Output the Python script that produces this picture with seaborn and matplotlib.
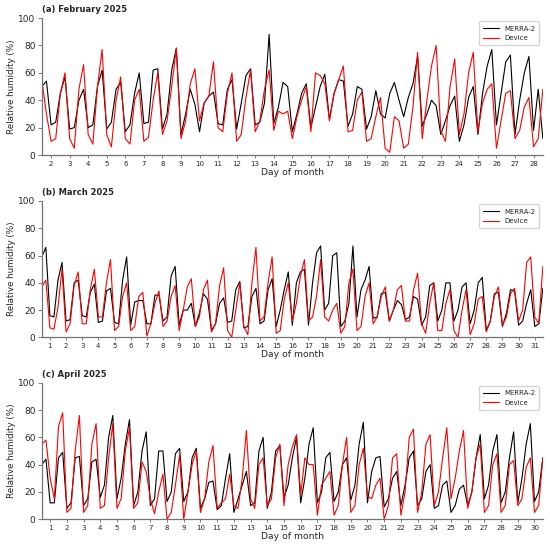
import numpy as np
import pandas as pd
import matplotlib
matplotlib.use("Agg")
import matplotlib.pyplot as plt
import seaborn as sns

# 6-hourly readings, x in day-of-month (tick k sits mid-day)
feb_start, mar_start, apr_start = 1.5, 0.5, 0.5
step = 0.25

feb_merra = [50, 54,
             22, 24, 45, 57,  19, 20, 40, 48,  20, 22, 50, 62,  19, 24, 48, 53,
             17, 22, 45, 60,  23, 24, 62, 63,  19, 30, 62, 78,  15, 30, 48, 37,
             17, 38, 43, 46,  23, 22, 48, 55,  19, 38, 58, 63,  22, 24, 38, 88,
             23, 35, 53, 50,  17, 30, 45, 52,  20, 35, 50, 59,  26, 45, 55, 54,
             21, 30, 50, 48,  19, 28, 47, 30,  27, 45, 53, 40,  28, 42, 52, 72,
             21, 30, 40, 36,  15, 25, 36, 43,  10, 22, 42, 50,  15, 45, 65, 77,
             22, 45, 68, 73,  15, 40, 60, 72,  18, 48, 12]
feb_device = [55, 30,
              10, 12, 45, 60,  12, 5, 48, 66,  15, 8, 50, 77,  15, 6, 40, 57,
              12, 8, 40, 48,  10, 13, 40, 60,  15, 25, 50, 78,  12, 25, 52, 63,
              25, 38, 43, 68,  20, 17, 45, 60,  10, 15, 42, 62,  17, 25, 48, 62,
              18, 32, 30, 32,  12, 28, 40, 50,  17, 60, 58, 52,  25, 45, 55, 65,
              17, 18, 40, 46,  10, 12, 28, 42,  5, 2, 28, 25,  5, 8, 35, 75,
              12, 40, 65, 80,  18, 10, 50, 70,  15, 30, 60, 75,  17, 38, 48, 52,
              5, 25, 45, 47,  12, 18, 35, 42,  6, 12, 48]

mar_merra = [59, 66,
             16, 15, 42, 55,  12, 13, 40, 42,  16, 15, 33, 39,  11, 12, 34, 36,
             11, 10, 42, 59,  9, 26, 27, 27,  10, 10, 31, 31,  12, 15, 45, 52,
             9, 20, 20, 25,  8, 18, 32, 28,  5, 10, 25, 29,  11, 12, 35, 41,
             7, 8, 30, 36,  10, 12, 35, 43,  8, 20, 35, 48,  9, 40, 48, 50,
             9, 40, 62, 67,  20, 25, 60, 62,  8, 12, 25, 67,  15, 35, 42, 52,
             14, 15, 32, 33,  12, 20, 27, 24,  13, 15, 30, 28,  9, 15, 38, 40,
             12, 20, 40, 40,  12, 20, 37, 40,  10, 20, 40, 44,  5, 12, 32, 33,
             8, 18, 35, 34,  9, 12, 25, 35,  8, 10, 36]
mar_device = [37, 42,
              7, 6, 22, 50,  4, 10, 38, 48,  10, 10, 35, 50,  15, 15, 40, 57,
              5, 8, 30, 40,  5, 8, 30, 33,  1, 10, 25, 34,  8, 12, 30, 38,
              5, 20, 37, 43,  8, 15, 35, 42,  4, 10, 38, 51,  5, 0, 20, 40,
              8, 2, 40, 66,  12, 15, 40, 59,  3, 5, 28, 40,  12, 25, 45, 57,
              12, 15, 30, 57,  15, 12, 20, 25,  3, 8, 40, 50,  5, 8, 30, 40,
              10, 15, 30, 37,  12, 20, 35, 38,  12, 12, 35, 47,  10, 3, 25, 40,
              5, 5, 25, 35,  5, 0, 20, 35,  2, 10, 28, 30,  4, 12, 30, 37,
              9, 15, 32, 36,  12, 20, 55, 59,  15, 10, 52]

apr_merra = [40, 44,
             12, 12, 45, 49,  8, 12, 45, 46,  10, 15, 42, 44,  16, 25, 60, 76,
             15, 30, 55, 73,  10, 20, 50, 64,  10, 15, 50, 50,  13, 20, 48, 52,
             13, 20, 45, 52,  8, 15, 27, 28,  7, 10, 30, 48,  5, 15, 25, 35,
             10, 12, 50, 60,  8, 20, 50, 54,  16, 25, 45, 60,  12, 30, 55, 67,
             12, 20, 45, 49,  13, 20, 40, 45,  14, 25, 55, 71,  12, 35, 45, 46,
             9, 15, 30, 35,  10, 25, 45, 50,  10, 15, 35, 40,  8, 10, 25, 28,
             5, 10, 22, 25,  10, 20, 45, 62,  15, 25, 50, 62,  12, 20, 45, 64,
             12, 30, 55, 70,  13, 20, 45]
apr_device = [55, 58,
              30, 15, 68, 78,  5, 8, 50, 76,  5, 10, 55, 70,  8, 10, 45, 70,
              8, 15, 50, 67,  8, 12, 42, 35,  15, 4, 20, 33,  0, 5, 25, 47,
              0, 20, 40, 50,  5, 15, 42, 54,  8, 12, 15, 33,  10, 8, 30, 65,
              15, 8, 40, 45,  10, 15, 45, 55,  10, 40, 53, 62,  18, 45, 40, 40,
              3, 25, 30, 35,  3, 10, 40, 60,  5, 10, 40, 52,  17, 15, 25, 30,
              0, 10, 45, 48,  3, 20, 60, 66,  5, 20, 55, 62,  10, 20, 45, 67,
              15, 30, 50, 65,  8, 20, 45, 55,  5, 10, 40, 48,  5, 10, 40, 43,
              10, 15, 38, 45,  5, 10, 45]

panels = [
    ("(a) February 2025", feb_start, feb_merra, feb_device, range(2, 29), (1.5, 28.5)),
    ("(b) March 2025", mar_start, mar_merra, mar_device, range(1, 32), (0.5, 31.5)),
    ("(c) April 2025", apr_start, apr_merra, apr_device, range(1, 31), (0.5, 30.5)),
]

sns.set_style("ticks")
plt.rcParams['font.family'] = ['DejaVu Sans']

fig = plt.figure(figsize=(5.5, 5.46), dpi=100)
boxes = [(0.076, 0.716, 0.911, 0.251),
         (0.076, 0.382, 0.911, 0.250),
         (0.076, 0.049, 0.911, 0.250)]

for (title, start, merra, device, days, lims), box in zip(panels, boxes):
    ax = fig.add_axes(box)
    n = len(merra)
    assert n == len(device)
    x = start + step * np.arange(n)
    df = pd.DataFrame({
        "day": np.concatenate([x, x]),
        "rh": merra + device,
        "src": ["MERRA-2"] * n + ["Device"] * n,
    })
    sns.lineplot(data=df, x="day", y="rh", hue="src",
                 palette={"MERRA-2": "black", "Device": "red"},
                 linewidth=0.8, ax=ax)
    ax.set_xlim(*lims)
    ax.set_ylim(0, 100)
    ax.set_xticks(list(days))
    ax.set_xticklabels([str(d) for d in days], fontsize=5)
    ax.set_yticks([0, 20, 40, 60, 80, 100])
    ax.tick_params(axis='y', labelsize=6.5, length=3, width=0.6, pad=1.5,
                   color="0.4")
    ax.tick_params(axis='x', length=2.5, width=0.6, pad=1.5, color="0.4")
    ax.set_xlabel("Day of month", fontsize=6.7, labelpad=1)
    ax.set_ylabel("Relative humidity (%)", fontsize=6.3, labelpad=2)
    ax.set_title(title, loc='left', fontsize=6, fontweight='bold', pad=4)
    for s in ("left", "bottom"):
        ax.spines[s].set_color("0.45")
        ax.spines[s].set_linewidth(0.9)
    sns.despine(ax=ax)
    ax.legend(loc='upper right', fontsize=5, frameon=True, handlelength=2.2,
              borderpad=0.6, labelspacing=0.5)

fig.savefig("out.png", dpi=100)
